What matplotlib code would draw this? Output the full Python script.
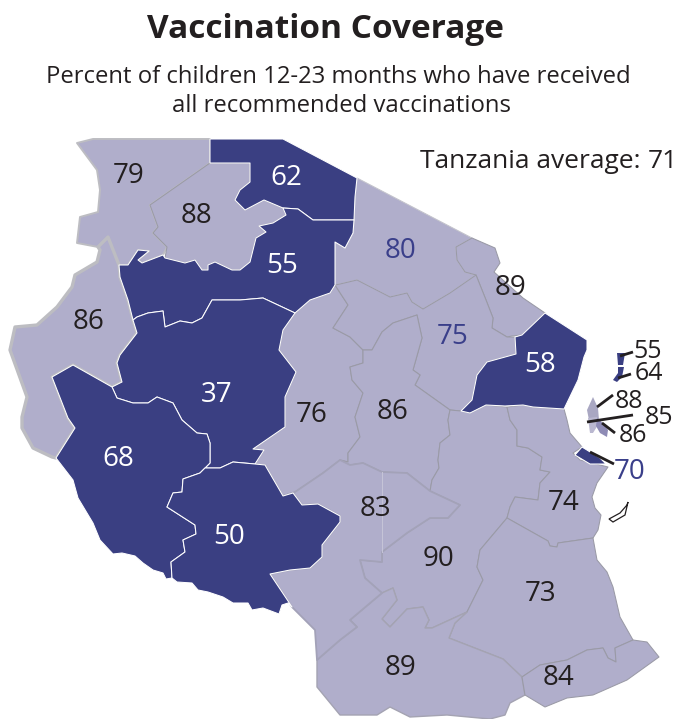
import matplotlib
matplotlib.use("Agg")
import matplotlib.pyplot as plt
from matplotlib.patches import Polygon

# ---- data ----
regions = ["NW79", "Lake88", "Mara62", "Geita55", "Kigoma86", "Tabora37", "Singida76", "Arusha80",
           "Kili89", "Manyara75", "Tanga58", "Dodoma86", "Katavi68", "Mbeya50", "Iringa83", "Morogoro90",
           "Pwani74", "Lindi73", "Ruvuma89", "Mtwara84",
           "Pemba55", "Pemba64", "Unguja88", "Unguja85", "Unguja86", "Dar70"]
values = [79, 88, 62, 55, 86, 37, 76, 80, 89, 75, 58, 86, 68, 50, 83, 90, 74, 73, 89, 84, 55, 64, 88, 85, 86, 70]
blue_labels = ["Arusha80", "Manyara75", "Dar70"]
national_average = 71
title = "Vaccination Coverage"
subtitle = ["Percent of children 12-23 months who have received", "all recommended vaccinations"]
average_label = "Tanzania average:"

# ---- geometry (traced outlines) ----
outlines = {
"NW79": [(77,143),(93,139),(210,139),(210,163),(150,205),(158,227),(153,233),(167,247),(163,255),(142,263),(138,260),(149,251),(138,250),(128,265),(119,265),(108,237),(98,247),(77,243),(80,217),(98,212),(100,190),(97,170)],
"Lake88": [(210,163),(250,163),(250,182),(240,190),(235,200),(245,210),(264,200),(283,208),(286,215),(273,223),(259,226),(266,232),(256,238),(250,262),(240,270),(232,270),(215,262),(208,265),(208,270),(202,270),(195,260),(185,263),(165,258),(167,247),(153,233),(158,227),(150,205)],
"Mara62": [(210,139),(283,139),(357,178),(355,197),(354,220),(313,220),(298,209),(283,208),(264,200),(245,210),(235,200),(240,190),(250,182),(250,163),(210,163)],
"Geita55": [(119,265),(128,265),(138,250),(149,251),(138,260),(142,263),(163,255),(165,258),(185,263),(195,260),(202,270),(208,270),(208,265),(215,262),(232,270),(240,270),(250,262),(256,238),(266,232),(259,226),(273,223),(286,215),(283,208),(298,209),(313,220),(354,220),(353,233),(345,248),(335,242),(335,285),(330,293),(310,300),(295,313),(263,298),(240,300),(212,300),(202,318),(192,323),(180,321),(165,327),(163,311),(148,313),(137,317),(133,320),(128,300),(120,277)],
"Kigoma86": [(108,237),(119,265),(120,277),(128,300),(133,320),(137,333),(120,355),(117,363),(122,382),(112,387),(73,365),(52,377),(53,378),(68,418),(75,428),(56,458),(52,457),(33,448),(22,428),(22,417),(27,397),(10,350),(15,327),(37,325),(57,307),(72,287),(75,275),(97,262),(100,250),(98,247)],
"Tabora37": [(133,320),(137,317),(148,313),(163,311),(165,327),(180,321),(192,323),(202,318),(212,300),(240,300),(263,298),(295,313),(283,330),(279,350),(296,372),(285,397),(285,427),(253,449),(264,450),(255,464),(233,462),(220,468),(205,468),(210,463),(210,443),(207,434),(197,433),(182,420),(173,403),(157,397),(148,403),(133,403),(117,398),(112,387),(122,382),(117,363),(120,355),(137,333)],
"Singida76": [(295,313),(310,300),(330,293),(335,285),(348,305),(333,328),(350,337),(363,350),(363,363),(350,367),(352,380),(363,393),(355,417),(360,437),(348,453),(348,462),(340,460),(323,473),(295,492),(283,496),(265,465),(255,464),(264,450),(253,449),(285,427),(285,397),(296,372),(279,350),(283,330)],
"Arusha80": [(357,178),(472,238),(456,247),(457,260),(465,272),(476,275),(450,293),(423,309),(412,302),(407,293),(390,297),(357,280),(340,284),(335,285),(335,242),(345,248),(353,233),(354,220),(355,197)],
"Kili89": [(472,238),(495,248),(500,263),(494,272),(523,298),(545,313),(522,335),(512,336),(507,337),(492,328),(493,318),(486,300),(476,275),(465,272),(457,260),(456,247)],
"Manyara75": [(476,275),(486,300),(493,318),(492,328),(507,337),(515,337),(516,354),(487,362),(477,375),(472,400),(461,411),(450,410),(415,385),(420,375),(413,370),(422,338),(417,315),(393,323),(382,332),(372,350),(363,350),(350,337),(333,328),(348,305),(335,285),(340,284),(357,280),(390,297),(407,293),(412,302),(423,309),(450,293)],
"Tanga58": [(545,313),(587,340),(587,350),(584,357),(578,380),(564,409),(533,407),(523,405),(505,406),(486,405),(470,413),(461,411),(472,400),(477,375),(487,362),(516,354),(515,337),(522,335)],
"Dodoma86": [(363,350),(372,350),(382,332),(393,323),(417,315),(422,338),(413,370),(420,375),(415,385),(450,410),(448,420),(450,435),(440,443),(438,460),(439,468),(432,480),(430,491),(407,473),(382,472),(363,463),(350,465),(340,460),(348,462),(348,453),(360,437),(355,417),(363,393),(352,380),(350,367),(363,363)],
"Katavi68": [(52,377),(73,365),(112,387),(117,398),(133,403),(148,403),(157,397),(173,403),(182,420),(197,433),(207,434),(210,443),(210,463),(205,468),(200,473),(183,479),(182,492),(173,493),(167,507),(195,525),(196,534),(183,540),(185,552),(171,562),(172,578),(166,579),(163,573),(153,570),(143,563),(135,556),(122,553),(113,554),(100,540),(93,523),(78,498),(73,480),(56,458),(75,428),(68,418)],
"Mbeya50": [(205,468),(220,468),(233,462),(255,464),(265,465),(283,496),(293,493),(302,505),(318,504),(340,516),(340,522),(322,545),(322,557),(310,568),(290,570),(270,574),(292,607),(288,603),(282,605),(279,614),(263,608),(252,610),(248,603),(233,603),(223,597),(208,592),(198,590),(192,583),(177,582),(172,578),(171,562),(185,552),(183,540),(196,534),(195,525),(167,507),(173,493),(182,492),(183,479),(200,473)],
"Iringa83": [(283,496),(295,492),(323,473),(340,460),(350,465),(363,463),(382,472),(407,473),(430,491),(460,505),(448,518),(430,518),(407,533),(382,552),(382,562),(360,560),(365,578),(382,593),(350,620),(357,627),(340,640),(317,660),(315,630),(292,607),(270,574),(290,570),(310,568),(322,557),(322,545),(340,522),(340,516),(318,504),(302,505),(293,493)],
"Morogoro90": [(450,410),(461,411),(470,413),(486,405),(507,407),(510,420),(517,430),(517,446),(528,448),(542,457),(540,470),(550,472),(540,483),(538,500),(515,497),(510,507),(507,518),(480,550),(477,567),(483,580),(467,612),(432,628),(425,628),(429,620),(423,607),(407,609),(390,627),(382,619),(397,600),(393,588),(382,593),(365,578),(360,560),(382,562),(382,552),(407,533),(430,518),(448,518),(460,505),(430,491),(432,480),(439,468),(438,460),(440,443),(450,435),(448,420)],
"Pwani74": [(507,407),(523,405),(533,407),(564,409),(567,420),(570,433),(582,447),(573,453),(580,460),(608,467),(597,483),(592,497),(595,508),(601,515),(598,530),(593,538),(558,543),(557,547),(550,546),(548,541),(507,518),(510,507),(515,497),(538,500),(540,483),(550,472),(540,470),(542,457),(528,448),(517,446),(517,430),(510,420)],
"Lindi73": [(449,638),(455,623),(467,612),(483,580),(477,567),(480,550),(507,518),(548,541),(550,546),(557,547),(558,543),(593,538),(597,560),(607,572),(613,587),(620,617),(633,640),(615,648),(616,662),(608,658),(603,648),(587,650),(567,660),(540,665),(522,677),(503,659)],
"Ruvuma89": [(317,660),(317,687),(340,715),(377,715),(390,707),(410,717),(447,715),(490,719),(505,715),(510,703),(525,695),(522,677),(503,659),(449,638),(455,623),(467,612),(432,628),(425,628),(429,620),(423,607),(407,609),(390,627),(382,619),(397,600),(393,588),(382,593),(350,620),(357,627),(340,640)],
"Mtwara84": [(522,677),(540,665),(567,660),(587,650),(603,648),(608,658),(616,662),(615,648),(633,640),(647,642),(659,657),(627,680),(593,695),(567,698),(545,707),(525,695)],
"Pemba55": [(617,353),(625,353),(623,365),(618,365)],
"Pemba64": [(618,367),(624,367),(622,377),(617,382),(613,380),(618,373)],
"Unguja88": [(593,397),(598,408),(599,420),(589,420),(587,410)],
"Unguja85": [(588,418),(597,417),(598,425),(593,433),(590,433)],
"Unguja86": [(597,418),(604,424),(608,430),(607,437),(600,433),(596,426)],
"Dar70": [(575,455),(582,447),(600,458),(606,464),(590,464)],
}
label_xy = {
"NW79": (129,176), "Lake88": (197,216), "Mara62": (286,178), "Geita55": (282,266), "Kigoma86": (89,322),
"Tabora37": (217,395), "Singida76": (312,415), "Arusha80": (400,251), "Kili89": (510,288), "Manyara75": (453,337),
"Tanga58": (540,365), "Dodoma86": (393,412), "Katavi68": (118,459), "Mbeya50": (229,537), "Iringa83": (375,509),
"Morogoro90": (439,559), "Pwani74": (564,503), "Lindi73": (541,594), "Ruvuma89": (401,668), "Mtwara84": (559,678),
"Pemba55": (648,351), "Pemba64": (649,374), "Unguja88": (629,402), "Unguja85": (659,417), "Unguja86": (633,436), "Dar70": (630,472),
}
leaders = {
"Pemba55": ((620,356),(633,352)), "Pemba64": ((618,378),(631,374)), "Unguja88": ((597,407),(613,395)),
"Unguja85": ((587,422),(633,415)), "Unguja86": ((602,423),(615,433)), "Dar70": ((590,452),(614,464)),
}
crescent = [(628,502),(625,515),(613,522),(609,519),(620,513),(627,505)]
iringa_divider = [(382,472),(382,552)]

# ---- style ----
DARK = "#3a3f82"
LIGHT = "#b0aecb"
BLUE = "#3a3f8a"
INK = "#231f20"
FONT = ["Open Sans", "DejaVu Sans"]
edge_width = {"Kigoma86": 2.4, "NW79": 1.4, "Iringa83": 1.3, "Ruvuma89": 1.0}
edge_colour = {"Kigoma86": "#bdbdc2", "NW79": "#bdbdc2", "Iringa83": "#a3a2b8", "Arusha80": "#c4c4cc", "Ruvuma89": "#a4a3b2"}
island_fill = {"Unguja88": "#a9a7c2", "Unguja85": "#bab8d0", "Unguja86": "#8e8bb5"}

fig = plt.figure(figsize=(6.8, 7.19), dpi=100)
ax = fig.add_axes([0, 0, 1, 1])
ax.set_xlim(0, 680)
ax.set_ylim(719, 0)
ax.axis("off")

value_of = dict(zip(regions, values))
order = sorted(regions, key=lambda r: value_of[r] < national_average)
for r in order:
    dark = value_of[r] < national_average
    fill = island_fill.get(r, DARK if dark else LIGHT)
    islet = r in island_fill or r.startswith("Pemba")
    ec = "none" if islet else ("white" if dark else edge_colour.get(r, "#9a9aa6"))
    ax.add_patch(Polygon(outlines[r], closed=True, facecolor=fill, edgecolor=ec,
                         linewidth=edge_width.get(r, 0.75), joinstyle="round",
                         zorder=3 if dark else (2.5 if r == "Iringa83" else 2)))

xs, ys = zip(*iringa_divider)
ax.plot(xs, ys, color="#c6c5d8", lw=0.7, zorder=3)
ax.add_patch(Polygon(crescent, closed=True, facecolor="white", edgecolor="#231f20", linewidth=0.9, zorder=3))

for r, (p, q) in leaders.items():
    ax.plot([p[0], q[0]], [p[1], q[1]], color=INK, lw=2.0, solid_capstyle="butt", zorder=4)

for r in regions:
    x, y = label_xy[r]
    dark = value_of[r] < national_average and r not in leaders
    col = BLUE if r in blue_labels else ("white" if dark else INK)
    ax.text(x, y, str(value_of[r]), ha="center", va="center", color=col, family=FONT,
            fontsize=18 if r in leaders and r != "Dar70" else 20, zorder=5)

ax.text(325, 30, title, ha="center", va="center", color=INK, family=FONT, fontweight="bold", fontsize=24)
ax.text(338, 77, subtitle[0], ha="center", va="center", color=INK, family=FONT, fontsize=17.2)
ax.text(341, 106, subtitle[1], ha="center", va="center", color=INK, family=FONT, fontsize=17.2)
ax.text(420, 161, average_label, ha="left", va="center", color=INK, family=FONT, fontsize=19)
ax.text(678, 161, str(national_average), ha="right", va="center", color=INK, family=FONT, fontsize=19)

fig.savefig("out.png", dpi=100, facecolor="white")
